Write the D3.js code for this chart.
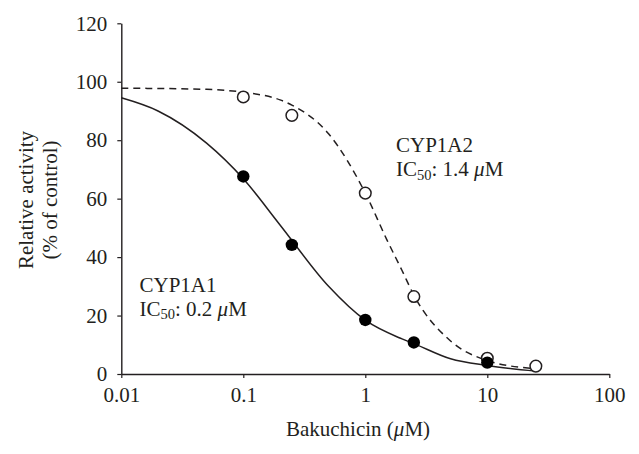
<!DOCTYPE html>
<html>
<head>
<meta charset="utf-8">
<script src="https://cdn.jsdelivr.net/npm/d3@7"></script>
<style>
  html, body { margin: 0; padding: 0; background: #fff; }
  text { font-family: "Liberation Serif", "DejaVu Serif", serif; fill: #231f20; }
</style>
</head>
<body>
<svg id="chart" width="639" height="454"></svg>
<script>
// ---- data ----
const concentrations = [0.1, 0.25, 1, 2.5, 10];           // µM, CYP1A1 points
const cyp1a1Values   = [67.6, 44.2, 18.5, 10.8, 3.9];
const concentrations2 = [0.1, 0.25, 1, 2.5, 10, 25];       // µM, CYP1A2 points
const cyp1a2Values    = [94.8, 88.5, 61.9, 26.5, 5.4, 2.7];

// fitted curves
const fit1X = [0.01, 0.02, 0.05, 0.1, 0.2, 0.5, 1, 2, 2.5, 5, 10, 25];
const fit1Y = [94.5, 90.0, 79.0, 66.8, 51.0, 30.0, 18.4, 12.0, 10.4, 5.2, 2.9, 1.0];
const fit2X = [0.01, 0.05, 0.1, 0.2, 0.25, 0.5, 1, 1.5, 2, 2.5, 5, 10, 25];
const fit2Y = [97.8, 97.4, 96.4, 93.8, 92.0, 82.2, 61.9, 46.0, 35.4, 27.0, 11.3, 4.6, 1.8];

const xTicks = [0.01, 0.1, 1, 10, 100];
const xTickLabels = ["0.01", "0.1", "1", "10", "100"];
const yTicks = [0, 20, 40, 60, 80, 100, 120];

// ---- drawing ----
const svg = d3.select("#chart");
const x = d3.scaleLog().domain([0.01, 100]).range([121.3, 609.3]);
const y = d3.scaleLinear().domain([0, 120]).range([374, 23.3]);
const FS = 21;

const yAxis = svg.append("g").attr("transform", `translate(${x(0.01)},0)`)
  .call(d3.axisLeft(y).tickValues(yTicks).tickSize(4).tickSizeOuter(0).tickPadding(10));
const xAxis = svg.append("g").attr("transform", `translate(0,${y(0)})`)
  .call(d3.axisBottom(x).tickValues(xTicks).tickSize(4).tickSizeOuter(0).tickPadding(8.6)
    .tickFormat((d, i) => xTickLabels[i]));
[xAxis, yAxis].forEach(g => {
  g.selectAll("path.domain").attr("stroke", "#231f20").attr("stroke-width", 1.4);
  g.selectAll(".tick line").attr("stroke", "#231f20").attr("stroke-width", 1.2);
  g.selectAll(".tick text").attr("font-size", FS)
    .attr("font-family", '"Liberation Serif", serif').attr("fill", "#231f20");
});

const line = d3.line().x(d => x(d[0])).y(d => y(d[1])).curve(d3.curveMonotoneX);
svg.append("path").datum(d3.zip(fit1X, fit1Y)).attr("d", line)
  .attr("fill", "none").attr("stroke", "#231f20").attr("stroke-width", 1.5);
svg.append("path").datum(d3.zip(fit2X, fit2Y)).attr("d", line)
  .attr("fill", "none").attr("stroke", "#231f20").attr("stroke-width", 1.5)
  .attr("stroke-dasharray", "7,5");

svg.append("g").selectAll("circle").data(d3.zip(concentrations2, cyp1a2Values)).join("circle")
  .attr("cx", d => x(d[0])).attr("cy", d => y(d[1])).attr("r", 5.8)
  .attr("fill", "#fff").attr("stroke", "#231f20").attr("stroke-width", 1.5);
svg.append("g").selectAll("circle").data(d3.zip(concentrations, cyp1a1Values)).join("circle")
  .attr("cx", d => x(d[0])).attr("cy", d => y(d[1])).attr("r", 6.2)
  .attr("fill", "#000").attr("stroke", "none");

// axis titles
svg.append("text").attr("x", 358).attr("y", 436).attr("text-anchor", "middle").attr("font-size", FS)
  .call(t => { t.append("tspan").text("Bakuchicin ("); t.append("tspan").attr("font-style", "italic").text("μ"); t.append("tspan").text("M)"); });

const yt = svg.append("text").attr("transform", "translate(0,200) rotate(-90)")
  .attr("text-anchor", "middle").attr("font-size", FS);
yt.append("tspan").attr("x", 0).attr("y", 33).text("Relative activity");
yt.append("tspan").attr("x", 0).attr("y", 57).text("(% of control)");

// annotations
function annot(xp, yp, name, ic) {
  svg.append("text").attr("x", xp).attr("y", yp).attr("font-size", FS).text(name);
  const t = svg.append("text").attr("x", xp).attr("y", yp + 24).attr("font-size", FS);
  t.append("tspan").text("IC");
  t.append("tspan").attr("font-size", 14.5).attr("dy", 3.5).text("50");
  t.append("tspan").attr("dy", -3.5).text(": " + ic + " ");
  t.append("tspan").attr("font-style", "italic").text("μ");
  t.append("tspan").text("M");
}
annot(396, 152, "CYP1A2", "1.4");
annot(139.5, 291.7, "CYP1A1", "0.2");
</script>
</body>
</html>
